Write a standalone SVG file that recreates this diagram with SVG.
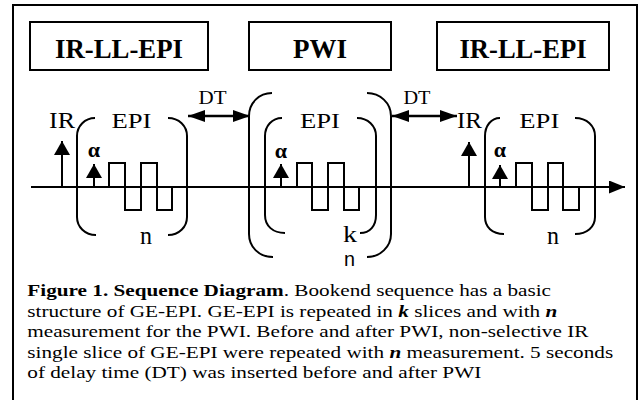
<svg xmlns="http://www.w3.org/2000/svg" width="644" height="400" viewBox="0 0 644 400">
<style>
.ln{fill:none;stroke:#000;stroke-width:2}
.box{fill:none;stroke:#000;stroke-width:2}
.ttl{font-family:"Liberation Serif","Times New Roman",serif;font-weight:bold;font-size:27px;text-anchor:middle;fill:#000}
.lbl{font-family:"Liberation Serif","Times New Roman",serif;font-size:21px;fill:#000}
.mid{text-anchor:middle}
.alpha{font-family:"Liberation Serif","Times New Roman",serif;font-weight:bold;font-size:22px;text-anchor:middle;fill:#000}
.cap{font-family:"Liberation Serif","Times New Roman",serif;font-size:17.5px;fill:#000}
.b{font-weight:bold}
.bi{font-weight:bold;font-style:italic}
.pulse{fill:none;stroke:#000;stroke-width:2;marker-end:url(#head)}
.dt{fill:none;stroke:#000;stroke-width:2.6;marker-start:url(#dthead);marker-end:url(#dthead)}
</style>
<defs>
<marker id="head" markerUnits="userSpaceOnUse" viewBox="0 0 14 16" refX="14" refY="8" markerWidth="14" markerHeight="16" orient="auto">
<path d="M0,0 L14,8 L0,16 z" fill="#000"/>
</marker>
<marker id="dthead" markerUnits="userSpaceOnUse" viewBox="0 0 17 12" refX="17" refY="6" markerWidth="17" markerHeight="12" orient="auto-start-reverse">
<path d="M0,0 L17,6 L0,12 z" fill="#000"/>
</marker>
<marker id="axhead" markerUnits="userSpaceOnUse" viewBox="0 0 16 13" refX="16" refY="6.5" markerWidth="16" markerHeight="13" orient="auto">
<path d="M0,0 L16,6.5 L0,13 z" fill="#000"/>
</marker>
</defs>
<rect x="0" y="0" width="644" height="400" fill="#fff"/>
<g id="frame"><rect x="13" y="5" width="624" height="410" class="box"/></g>

<g id="title-ir-ll-epi-1">
<rect x="30" y="22" width="178" height="48" class="box"/>
<text x="119" y="58" class="ttl" textLength="128" lengthAdjust="spacingAndGlyphs">IR-LL-EPI</text>
</g>
<g id="title-pwi">
<rect x="249" y="22" width="142" height="48" class="box"/>
<text x="320" y="58" class="ttl" textLength="54" lengthAdjust="spacingAndGlyphs">PWI</text>
</g>
<g id="title-ir-ll-epi-2">
<rect x="437" y="22" width="172" height="48" class="box"/>
<text x="523" y="58" class="ttl" textLength="127" lengthAdjust="spacingAndGlyphs">IR-LL-EPI</text>
</g>

<g id="time-axis">
<line x1="31" y1="187" x2="625" y2="187" class="ln" marker-end="url(#axhead)"/>
</g>

<g id="block-ir-ll-epi-1">
<text x="49" y="128" class="lbl" style="font-size:24px" textLength="26" lengthAdjust="spacingAndGlyphs">IR</text>
<line x1="62" y1="187" x2="62" y2="141" class="pulse"/>
<path d="M95,118 C85,118 77,126 77,136 V217 C77,227 85,235 96,235" class="ln"/>
<path d="M168,118 C179,118 187,126 187,136 V217 C187,227 179,235 168,235" class="ln"/>
<text x="131.5" y="128" class="lbl mid" textLength="40" lengthAdjust="spacingAndGlyphs">EPI</text>
<text x="94" y="157" class="alpha">α</text>
<line x1="94" y1="187" x2="94" y2="164" class="pulse"/>
<path d="M109,187 V163 H125 V210 H141 V163 H157 V210 H172 V187" class="ln"/>
<text x="146" y="244" class="lbl mid" style="font-size:25px" textLength="12" lengthAdjust="spacingAndGlyphs">n</text>
</g>

<g id="block-pwi">
<path d="M272,93 C259,93 249,103 249,116 V234 C249,247 259,257 273,257" class="ln"/>
<path d="M367,93 C380,93 391,103 391,116 V234 C391,247 380,257 367,257" class="ln"/>
<path d="M282,118 C272,118 265,126 265,136 V215 C265,226 273,233 285,233" class="ln"/>
<path d="M357,118 C368,118 376,126 376,136 V215 C376,226 370,233 360,233" class="ln"/>
<text x="320" y="128" class="lbl mid" textLength="40" lengthAdjust="spacingAndGlyphs">EPI</text>
<text x="281" y="158" class="alpha">α</text>
<line x1="281" y1="187" x2="281" y2="164" class="pulse"/>
<path d="M297,187 V163 H312 V210 H328 V163 H344 V210 H359 V187" class="ln"/>
<text x="350" y="242" class="lbl mid" style="font-size:24px" textLength="14" lengthAdjust="spacingAndGlyphs">k</text>
<text x="349.5" y="266" class="mid" style="font-family:'Liberation Sans',Arial,sans-serif;font-size:20px" textLength="11" lengthAdjust="spacingAndGlyphs">n</text>
</g>

<g id="block-ir-ll-epi-2">
<text x="457" y="128" class="lbl" style="font-size:24px" textLength="25" lengthAdjust="spacingAndGlyphs">IR</text>
<line x1="469" y1="187" x2="469" y2="142" class="pulse"/>
<path d="M500,118 C491,118 485,126 485,136 V217 C485,227 492,234 504,234" class="ln"/>
<path d="M575,118 C587,118 595,126 595,136 V217 C595,227 587,234 575,234" class="ln"/>
<text x="539.3" y="128" class="lbl mid" textLength="40" lengthAdjust="spacingAndGlyphs">EPI</text>
<text x="500" y="157" class="alpha">α</text>
<line x1="500" y1="187" x2="500" y2="165" class="pulse"/>
<path d="M516,187 V163 H532 V210 H548 V163 H563 V210 H579 V187" class="ln"/>
<text x="553" y="244" class="lbl mid" style="font-size:25px" textLength="12" lengthAdjust="spacingAndGlyphs">n</text>
</g>

<g id="connectors">
<line x1="188" y1="116" x2="250" y2="116" class="dt"/>
<text x="212.5" y="104" class="lbl mid" style="font-size:18px" textLength="28" lengthAdjust="spacingAndGlyphs">DT</text>
<line x1="392" y1="116" x2="457" y2="116" class="dt"/>
<text x="417" y="104" class="lbl mid" style="font-size:18px" textLength="27" lengthAdjust="spacingAndGlyphs">DT</text>
</g>

<g id="caption">
<text class="cap" transform="translate(27.3,296) scale(1.212,1)"><tspan class="b">Figure 1. Sequence Diagram</tspan>. Bookend sequence has a basic</text>
<text class="cap" transform="translate(27.3,316.5) scale(1.212,1)">structure of GE-EPI. GE-EPI is repeated in <tspan class="bi">k</tspan> slices and with <tspan class="bi">n</tspan></text>
<text class="cap" transform="translate(27.3,337) scale(1.212,1)">measurement for the PWI. Before and after PWI, non-selective IR</text>
<text class="cap" transform="translate(27.3,357.5) scale(1.212,1)">single slice of GE-EPI were repeated with <tspan class="bi">n</tspan> measurement. 5 seconds</text>
<text class="cap" transform="translate(27.3,378) scale(1.212,1)">of delay time (DT) was inserted before and after PWI</text>
</g>
</svg>
